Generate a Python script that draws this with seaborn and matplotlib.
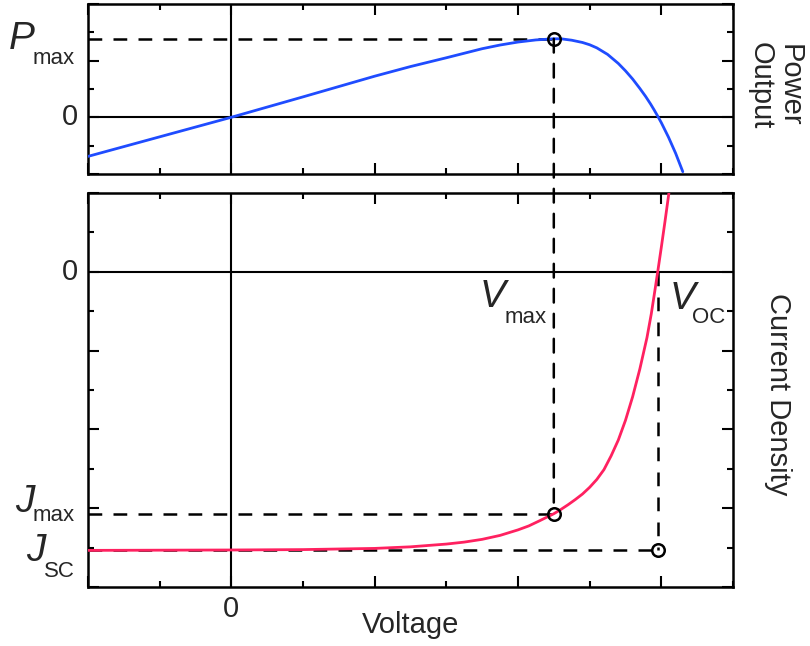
import matplotlib
matplotlib.use('Agg')
import matplotlib.pyplot as plt
import matplotlib.transforms as mtrans
from matplotlib.patches import ConnectionPatch
from matplotlib.ticker import MultipleLocator
import pandas as pd
import seaborn as sns

# values
voltage_p = [-2.0, -1.0, 0.0, 1.0, 2.0, 2.5, 3.0, 3.5, 3.75, 4.0, 4.25, 4.5,
             4.6, 4.75, 4.9, 5.0, 5.1, 5.25, 5.4, 5.5, 5.6, 5.7, 5.78, 5.85,
             5.9, 5.95, 6.0, 6.1, 6.2, 6.3]
power = [-1.38, -0.69, 0.0, 0.72, 1.45, 1.79, 2.1, 2.42, 2.55, 2.655, 2.73, 2.77,
         2.77, 2.72, 2.64, 2.56, 2.45, 2.22, 1.9, 1.64, 1.35, 1.02, 0.74, 0.47,
         0.26, 0.04, -0.19, -0.7, -1.27, -1.92]

voltage_j = [-2.0, 0.0, 1.0, 2.0, 2.5, 3.0, 3.25, 3.5, 3.75, 4.0, 4.15, 4.3,
             4.4, 4.5, 4.6, 4.7, 4.8, 4.9, 5.0, 5.1, 5.2, 5.3, 5.4, 5.5, 5.6,
             5.7, 5.8, 5.86, 5.9, 5.95, 6.0, 6.05, 6.1, 6.15]
current = [-7.07, -7.06, -7.05, -7.02, -6.98, -6.91, -6.86, -6.79, -6.69, -6.55,
           -6.45, -6.32, -6.23, -6.14, -6.03, -5.91, -5.78, -5.64, -5.47, -5.27,
           -5.02, -4.67, -4.27, -3.77, -3.17, -2.47, -1.67, -1.07, -0.6, 0.0,
           0.62, 1.26, 1.92, 2.6]

v_max = 4.5
p_max = 2.77
j_max = -6.14
v_oc = 5.95
j_sc = -7.07

blue = '#1f4cff'
pink = '#ff2160'
dash = (0, (5.5, 4.5))
MAIN = 28
SUB = 16

sns.set_theme(style='ticks')
plt.rcParams['font.family'] = ['Liberation Sans', 'DejaVu Sans']

fig = plt.figure(figsize=(8.1, 6.46), dpi=100)
ax1 = fig.add_axes([0.1086, 0.7307, 0.7963, 0.2632])
ax2 = fig.add_axes([0.1086, 0.0913, 0.7963, 0.6099])


def style_axis(ax, ylim):
    ax.set_xlim(-2, 7)
    ax.set_ylim(*ylim)
    ax.xaxis.set_major_locator(MultipleLocator(2))
    ax.xaxis.set_minor_locator(MultipleLocator(1))
    ax.yaxis.set_major_locator(MultipleLocator(2))
    ax.yaxis.set_minor_locator(MultipleLocator(1))
    ax.tick_params(which='both', direction='in', top=True, right=True,
                   labelbottom=False, labelleft=False, width=1.5, color='black')
    ax.tick_params(which='major', length=8)
    ax.tick_params(which='minor', length=4.5)
    for s in ax.spines.values():
        s.set_linewidth(1.8)
        s.set_color('black')
    ax.axhline(0, color='black', lw=1.5, zorder=1)
    ax.axvline(0, color='black', lw=1.5, zorder=1)
    ax.set_xlabel('')
    ax.set_ylabel('')


def sub_label(ax, xy, trans, main, sub, main_dy, sub_dy, align='right'):
    # italic symbol with an upright subscript, offsets in points
    renderer = fig.canvas.get_renderer()
    if align == 'right':
        t = ax.annotate(sub, xy, xycoords=trans, xytext=(0, sub_dy),
                        textcoords='offset points', ha='right', va='baseline', fontsize=SUB)
        w = t.get_window_extent(renderer).width * 72 / fig.dpi
        ax.annotate(main, xy, xycoords=trans, xytext=(-w + 1, main_dy),
                    textcoords='offset points', ha='right', va='baseline',
                    fontsize=MAIN, style='italic')
    else:
        t = ax.annotate(main, xy, xycoords=trans, xytext=(0, main_dy),
                        textcoords='offset points', ha='left', va='baseline',
                        fontsize=MAIN, style='italic')
        w = t.get_window_extent(renderer).width * 72 / fig.dpi
        ax.annotate(sub, xy, xycoords=trans, xytext=(w - 2, sub_dy),
                    textcoords='offset points', ha='left', va='baseline', fontsize=SUB)


power_df = pd.DataFrame({'V': voltage_p, 'P': power})
current_df = pd.DataFrame({'V': voltage_j, 'J': current})

sns.lineplot(data=power_df, x='V', y='P', ax=ax1, color=blue, lw=2, sort=False, zorder=3)
sns.lineplot(data=current_df, x='V', y='J', ax=ax2, color=pink, lw=2, sort=False, zorder=3)

style_axis(ax1, (-2, 4))
style_axis(ax2, (-8, 2))

# guide lines
ax1.plot([-2, v_max], [p_max, p_max], color='black', ls=dash, lw=1.8, zorder=2)
ax2.plot([-2, v_max], [j_max, j_max], color='black', ls=dash, lw=1.8, zorder=2)
ax2.plot([-2, v_oc], [j_sc, j_sc], color='black', ls=dash, lw=1.8, zorder=2)
ax2.plot([v_oc, v_oc], [0, j_sc], color='black', ls=dash, lw=1.8, zorder=2)
con = ConnectionPatch(xyA=(v_max, p_max), coordsA=ax1.transData,
                      xyB=(v_max, j_max), coordsB=ax2.transData,
                      color='black', ls=dash, lw=1.8, zorder=2)
fig.add_artist(con)

mk = dict(marker='o', ms=9, mfc='none', mec='black', mew=1.8, zorder=5)
ax1.plot([v_max], [p_max], **mk)
ax2.plot([v_max], [j_max], **mk)
ax2.plot([v_oc], [j_sc], **mk)

# labels
tr1 = mtrans.blended_transform_factory(ax1.transAxes, ax1.transData)
tr2 = mtrans.blended_transform_factory(ax2.transAxes, ax2.transData)
ax1.text(-0.016, 0, '0', transform=tr1, ha='right', va='center', fontsize=21)
ax2.text(-0.016, 0, '0', transform=tr2, ha='right', va='center', fontsize=21)

sub_label(ax1, (-0.02, p_max), tr1, 'P', 'max', -7, -18)
sub_label(ax2, (-0.02, j_max), tr2, 'J', 'max', 1.5, -5)
sub_label(ax2, (-0.02, j_sc), tr2, 'J', 'SC', -8, -19)
sub_label(ax2, (4.40, 0), ax2.transData, 'V', 'max', -25.5, -36.5)
sub_label(ax2, (6.11, 0), ax2.transData, 'V', 'OC', -27, -36.5, align='left')

trx = mtrans.blended_transform_factory(ax2.transData, ax2.transAxes)
ax2.text(0, -0.02, '0', transform=trx, ha='center', va='top', fontsize=21)
ax2.text(0.5, -0.097, 'Voltage', transform=ax2.transAxes, ha='center', va='center', fontsize=21)

ax1.text(1.066, 0.52, 'Power\nOutput', transform=ax1.transAxes, rotation=270,
         ha='center', va='center', fontsize=21, linespacing=1.05)
ax2.text(1.07, 0.49, 'Current Density', transform=ax2.transAxes, rotation=270,
         ha='center', va='center', fontsize=21)

fig.savefig('out.png', dpi=100, facecolor='white')
